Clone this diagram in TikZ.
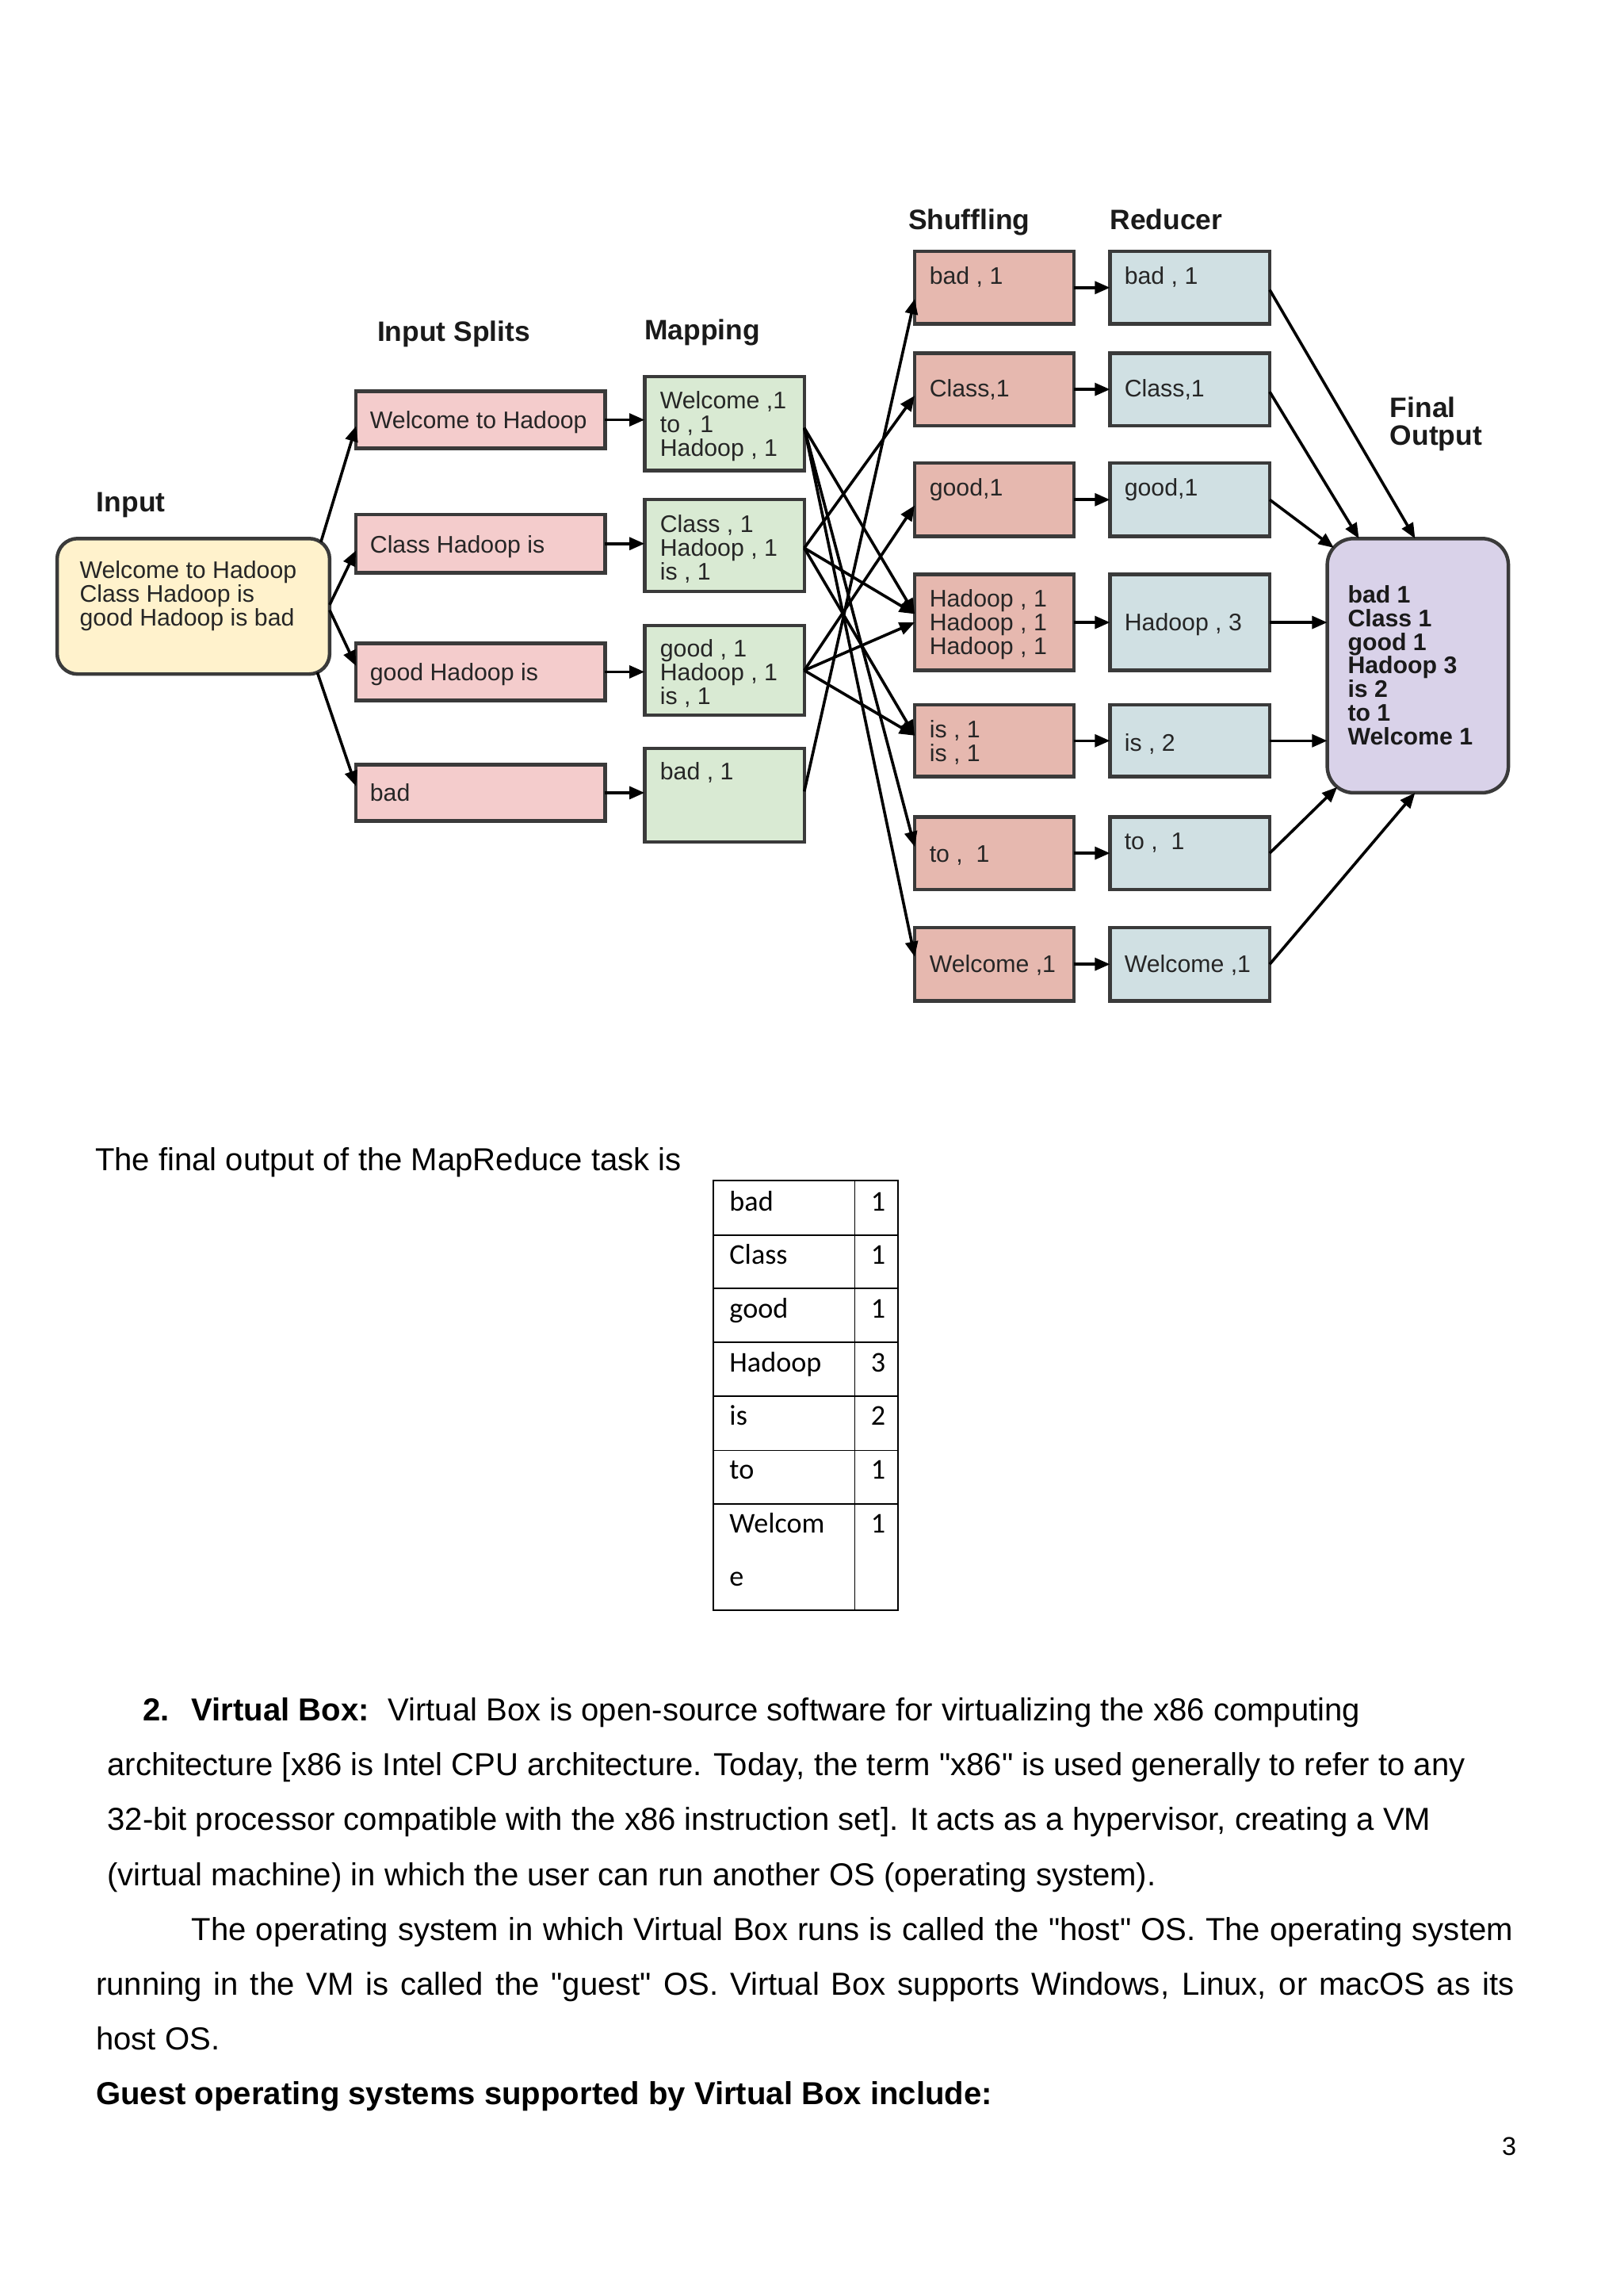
\documentclass[tikz,border=0pt]{standalone}
\usepackage{fontspec}
\setmainfont{Liberation Sans}[Ligatures=TeXOff]
\newfontfamily\calibrifont{Carlito}
\usetikzlibrary{arrows.meta}
\definecolor{inyel}{HTML}{FFF2CC}
\definecolor{splitpink}{HTML}{F4CCCC}
\definecolor{mapgreen}{HTML}{D9EAD3}
\definecolor{shufred}{HTML}{E6B8AF}
\definecolor{redcyan}{HTML}{D0E0E3}
\definecolor{finpurple}{HTML}{D9D2E9}
\definecolor{boxline}{HTML}{3A3A3A}
\definecolor{boxtext}{HTML}{262626}
\definecolor{headtext}{HTML}{1A1A1A}
\begin{document}
\begin{tikzpicture}[x=0.5373pt,y=-0.5373pt,
  every node/.style={inner sep=0pt, outer sep=0pt},
  box/.style={draw=boxline, line width=1.3pt, rectangle, inner sep=0pt},
  dim/.style 2 args={minimum width=#1*0.5373pt, minimum height=#2*0.5373pt},
  dtext/.style={font=\fontsize{8.8pt}{8.76pt}\selectfont, text=boxtext, anchor=base west},
  mtext/.style={font=\fontsize{8.8pt}{8.76pt}\selectfont, text=boxtext, anchor=north west, align=left},
  ftext/.style={font=\fontsize{8.8pt}{8.7pt}\selectfont\bfseries, text=headtext, anchor=north west, align=left},
  head/.style={font=\fontsize{10.3pt}{10.2pt}\selectfont\bfseries, text=headtext, anchor=base west},
  conn/.style={-{Triangle[length=5.6pt,width=4.6pt]}, line width=1.05pt, black},
  body/.style={font=\fontsize{11.65pt}{14pt}\selectfont, anchor=base west, text=black},
  tcell/.style={font=\calibrifont\fontsize{10.5pt}{12pt}\selectfont, anchor=base west, text=black},
  tnum/.style={font=\calibrifont\fontsize{10.5pt}{12pt}\selectfont, anchor=base, text=black}]

\fill[white] (0,0) rectangle (1108,1566.8);
\useasboundingbox (0,0) rectangle (1108,1566.8);

% headers
\node[head] (hshuf) at (620,156.9) {Shuffling};
\node[head] (hred) at (757.7,156.9) {Reducer};
\node[head] (hsplit) at (257.6,232.9) {Input Splits};
\node[head] (hmap) at (440,232) {Mapping};
\node[head] (hin) at (66,349) {Input};
\node[head] (hfin1) at (948.9,285) {Final};
\node[head] (hfin2) at (948.9,304) {Output};

% input
\node[box, rounded corners=7.5pt, fill=inyel, dim={186}{92.5}] (inp) at (132,413.75) {};
\node[mtext] (inpt) at (54.4,382.8) {Welcome to Hadoop\\Class Hadoop is\\good Hadoop is bad};

% input splits
\node[box, fill=splitpink, dim={170}{39}] (s1) at (328,286.5) {};
\node[box, fill=splitpink, dim={170}{40}] (s2) at (328,371) {};
\node[box, fill=splitpink, dim={170}{39}] (s3) at (328,458.5) {};
\node[box, fill=splitpink, dim={170}{38.6}] (s4) at (328,541) {};
\node[dtext] (s1t) at (252.6,292.6) {Welcome to Hadoop};
\node[dtext] (s2t) at (252.6,377.2) {Class Hadoop is};
\node[dtext] (s3t) at (252.6,464.2) {good Hadoop is};
\node[dtext] (s4t) at (252.6,546.6) {bad};

% mapping
\node[box, fill=mapgreen, dim={109}{64}] (m1) at (494.5,289) {};
\node[box, fill=mapgreen, dim={109}{62.7}] (m2) at (494.5,372.3) {};
\node[box, fill=mapgreen, dim={109}{61}] (m3) at (494.5,457.5) {};
\node[box, fill=mapgreen, dim={109}{64}] (m4) at (494.5,542.7) {};
\node[mtext] (m1t) at (450.6,266.9) {Welcome ,1\\to , 1\\Hadoop , 1};
\node[mtext] (m2t) at (450.6,351.3) {Class , 1\\Hadoop , 1\\is , 1};
\node[mtext] (m3t) at (450.6,436.2) {good , 1\\Hadoop , 1\\is , 1};
\node[dtext] (m4t) at (450.6,532.1) {bad , 1};

% shuffling
\node[box, fill=shufred, dim={108.6}{49.4}] (sh1) at (678.7,196.3) {};
\node[box, fill=shufred, dim={108.6}{49.4}] (sh2) at (678.7,265.7) {};
\node[box, fill=shufred, dim={108.6}{50}] (sh3) at (678.7,341) {};
\node[box, fill=shufred, dim={108.6}{65.5}] (sh4) at (678.7,424.75) {};
\node[box, fill=shufred, dim={108.6}{49}] (sh5) at (678.7,505.5) {};
\node[box, fill=shufred, dim={108.6}{49.6}] (sh6) at (678.7,582.2) {};
\node[box, fill=shufred, dim={108.6}{50}] (sh7) at (678.7,658) {};
\node[dtext] (sh1t) at (634.5,194.2) {bad , 1};
\node[dtext] (sh2t) at (634.5,271) {Class,1};
\node[dtext] (sh3t) at (634.5,338.5) {good,1};
\node[mtext] (sh4t) at (634.5,402.4) {Hadoop , 1\\Hadoop , 1\\Hadoop , 1};
\node[mtext] (sh5t) at (634.5,491.4) {is , 1\\is , 1};
\node[dtext] (sh6t) at (634.5,588.4) {to ,\ \ 1};
\node[dtext] (sh7t) at (634.5,663.4) {Welcome ,1};

% reducer
\node[box, fill=redcyan, dim={109}{49.4}] (r1) at (812.2,196.3) {};
\node[box, fill=redcyan, dim={109}{49.4}] (r2) at (812.2,265.7) {};
\node[box, fill=redcyan, dim={109}{50}] (r3) at (812.2,341) {};
\node[box, fill=redcyan, dim={109}{65.5}] (r4) at (812.2,424.75) {};
\node[box, fill=redcyan, dim={109}{49}] (r5) at (812.2,505.5) {};
\node[box, fill=redcyan, dim={109}{49.6}] (r6) at (812.2,582.2) {};
\node[box, fill=redcyan, dim={109}{50}] (r7) at (812.2,658) {};
\node[dtext] (r1t) at (767.6,194.2) {bad , 1};
\node[dtext] (r2t) at (767.6,271) {Class,1};
\node[dtext] (r3t) at (767.6,338.5) {good,1};
\node[dtext] (r4t) at (767.6,430.4) {Hadoop , 3};
\node[dtext] (r5t) at (767.6,512.4) {is , 2};
\node[dtext] (r6t) at (767.6,579.5) {to ,\ \ 1};
\node[dtext] (r7t) at (767.6,663.4) {Welcome ,1};

% final output
\node[box, rounded corners=9.7pt, fill=finpurple, dim={123.6}{173.5}] (fin) at (967.8,454.25) {};
\node[ftext] (fint) at (920,399.4) {bad 1\\Class 1\\good 1\\Hadoop 3\\is 2\\to 1\\Welcome 1};

% input -> splits
\draw[conn] ([xshift=-3.2pt,yshift=-1.3pt]inp.north east) -- ([yshift=-2.3pt]s1.west);
\draw[conn] ([yshift=0.55pt]inp.east) -- ([yshift=-2.5pt]s2.west);
\draw[conn] ([yshift=-1.4pt]inp.east) -- ([yshift=2.2pt]s3.west);
\draw[conn] ([xshift=-4.5pt,yshift=0.6pt]inp.south east) -- ([yshift=2.4pt]s4.west);

% splits -> mapping
\draw[conn] (s1.east) -- (s1.east -| m1.west);
\draw[conn] (s2.east) -- (s2.east -| m2.west);
\draw[conn] (s3.east) -- (s3.east -| m3.west);
\draw[conn] (s4.east) -- (s4.east -| m4.west);

% mapping -> shuffling
\draw[conn] ([yshift=-1.6pt]m1.east) -- ([yshift=3.1pt]sh4.west);
\draw[conn] ([yshift=-1.6pt]m1.east) -- ([yshift=2.3pt]sh6.west);
\draw[conn] ([yshift=-1.6pt]m1.east) -- ([yshift=2.7pt]sh7.west);
\draw[conn] ([yshift=-0.9pt]m2.east) -- ([yshift=-2.3pt]sh2.west);
\draw[conn] ([yshift=-0.9pt]m2.east) -- ([yshift=3.1pt]sh4.west);
\draw[conn] ([yshift=-0.9pt]m2.east) -- ([yshift=1.9pt]sh5.west);
\draw[conn] (m3.east) -- ([yshift=-2.1pt]sh3.west);
\draw[conn] (m3.east) -- (sh4.west);
\draw[conn] (m3.east) -- ([yshift=1.9pt]sh5.west);
\draw[conn] ([yshift=1.4pt]m4.east) -- ([yshift=-4.1pt]sh1.west);

% shuffling -> reducer
\draw[conn] (sh1.east) -- (sh1.east -| r1.west);
\draw[conn] (sh2.east) -- (sh2.east -| r2.west);
\draw[conn] (sh3.east) -- (sh3.east -| r3.west);
\draw[conn] (sh4.east) -- (sh4.east -| r4.west);
\draw[conn] (sh5.east) -- (sh5.east -| r5.west);
\draw[conn] (sh6.east) -- (sh6.east -| r6.west);
\draw[conn] (sh7.east) -- (sh7.east -| r7.west);

% reducer -> final
\draw[conn] ([yshift=-0.8pt]r1.east) -- ([xshift=-1pt]fin.north);
\draw[conn] ([yshift=-0.9pt]r2.east) -- ([xshift=-21.6pt]fin.north);
\draw[conn] (r3.east) -- ([xshift=2.4pt,yshift=-3.4pt]fin.north west);
\draw[conn] (r4.east) -- (r4.east -| fin.west);
\draw[conn] (r5.east) -- (r5.east -| fin.west);
\draw[conn] (r6.east) -- ([xshift=3.65pt,yshift=2.1pt]fin.south west);
\draw[conn] (r7.east) -- ([xshift=-1pt]fin.south);

% body text
\node[body] (b0) at (65,799) {The final output of the MapReduce task is};

% table
\draw[line width=0.55pt] (487,805.6) rectangle (613,1099);
\draw[line width=0.55pt] (583.5,805.6) -- (583.5,1099);
\foreach \yy in {842.7,879.3,915.9,952.9,989.8,1026.5}
  \draw[line width=0.55pt] (487,\yy) -- (613,\yy);
\node[tcell] (c1) at (498,826.4) {bad};
\node[tcell] (c2) at (498,862.9) {Class};
\node[tcell] (c3) at (498,899.5) {good};
\node[tcell] (c4) at (498,936.1) {Hadoop};
\node[tcell] (c5) at (498,972.7) {is};
\node[tcell] (c6) at (498,1009.3) {to};
\node[tcell] (c7) at (498,1046.3) {Welcom};
\node[tcell] (c7b) at (498,1082.4) {e};
\node[tnum] (n1) at (599.5,826.4) {1};
\node[tnum] (n2) at (599.5,862.9) {1};
\node[tnum] (n3) at (599.5,899.5) {1};
\node[tnum] (n4) at (599.5,936.1) {3};
\node[tnum] (n5) at (599.5,972.7) {2};
\node[tnum] (n6) at (599.5,1009.3) {1};
\node[tnum] (n7) at (599.5,1046.3) {1};

\node[body] (l1a) at (97.5,1174.4) {\bfseries 2.};
\node[body] (l1b) at (130.7,1174.4) {\bfseries Virtual Box:};
\node[body] (l1c) at (264.8,1174.4) {Virtual Box is open-source software for virtualizing the x86 computing};
\node[body] (l2) at (73.3,1211.8) {architecture [x86 is Intel CPU architecture. Today, the term "x86" is used generally to refer to any};
\node[body] (l3) at (73.3,1249.2) {32-bit processor compatible with the x86 instruction set]. It acts as a hypervisor, creating a VM};
\node[body] (l4) at (73.3,1286.6) {(virtual machine) in which the user can run another OS (operating system).};
\node[body] (l5) at (130.7,1324) {\makebox[484.7pt][s]{The operating system in which Virtual Box runs is called the "host" OS. The operating system}};
\node[body] (l6) at (65.6,1361.4) {\makebox[520.1pt][s]{running in the VM is called the "guest" OS. Virtual Box supports Windows, Linux, or macOS as its}};
\node[body] (l7) at (65.6,1398.8) {host OS.};
\node[body] (l8) at (65.6,1436.2) {\bfseries Guest operating systems supported by Virtual Box include:};
\node[font=\fontsize{9.4pt}{11pt}\selectfont, anchor=base] (pg) at (1030.2,1470.5) {3};
\end{tikzpicture}
\end{document}
